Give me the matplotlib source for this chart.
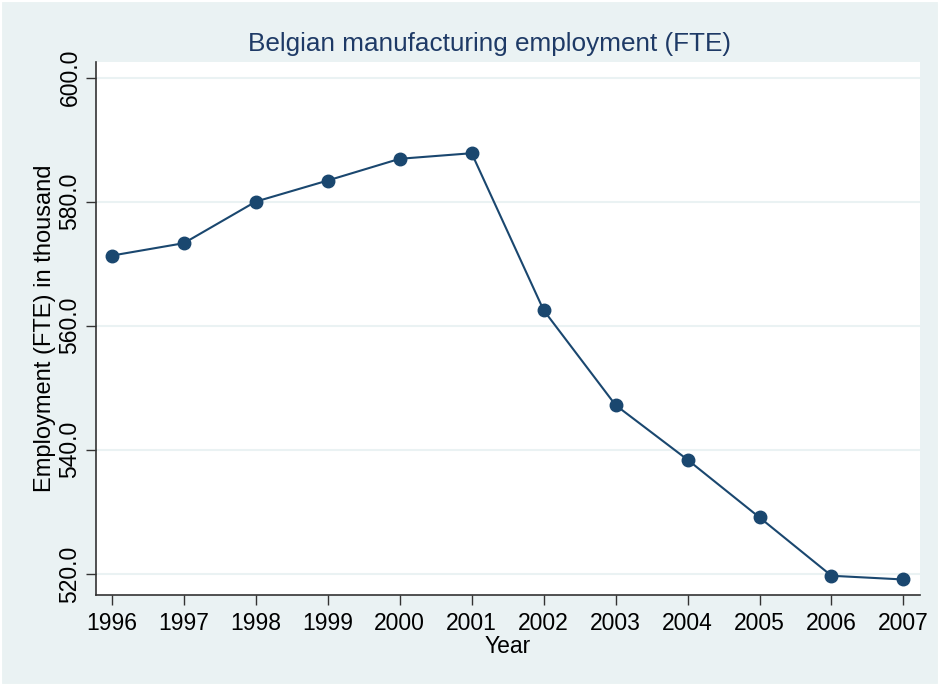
import matplotlib.pyplot as plt
from matplotlib.patches import Rectangle

years = [1996, 1997, 1998, 1999, 2000, 2001, 2002, 2003, 2004, 2005, 2006, 2007]
employment = [571.3, 573.3, 580.0, 583.4, 586.9, 587.8, 562.5, 547.2, 538.4, 529.1, 519.7, 519.1]
ytick_vals = [520, 540, 560, 580, 600]

bg = "#EAF2F3"
navy = "#1a476f"

plt.rcParams['font.family'] = ['Liberation Sans', 'DejaVu Sans']

fig = plt.figure(figsize=(9.4, 6.86), dpi=100, facecolor=bg)
# thin white frame around the graph region
fig.patches.append(Rectangle((0, 0), 1, 1, transform=fig.transFigure,
                             fill=False, edgecolor="white", lw=3))
ax = fig.add_axes([96 / 940, 1 - 595 / 686, 824 / 940, 533 / 686])
ax.set_facecolor("white")

# grid lines
for v in ytick_vals:
    ax.axhline(v, color=bg, lw=1.5, zorder=1)

ax.plot(years, employment, color=navy, lw=1.5, marker="o", ms=9, zorder=3)

ax.set_xlim(1995.78, 2007.23)
ax.set_ylim(516.6, 602.5)
ax.set_xticks(years)
ax.set_yticks(ytick_vals)
ax.set_yticklabels([f"{v:.1f}" for v in ytick_vals], rotation=90, va="center")
ax.tick_params(labelsize=16.5, length=7, width=1, color="#333333")
ax.tick_params(axis="x", pad=5)

for s in ["top", "right"]:
    ax.spines[s].set_visible(False)
for s in ["left", "bottom"]:
    ax.spines[s].set_color("#333333")
    ax.spines[s].set_linewidth(1.2)

ax.set_xlabel("Year", fontsize=16.5, labelpad=0)
ax.set_ylabel("Employment (FTE) in thousand", fontsize=17, labelpad=2)
fig.text(489 / 940, 1 - 44 / 686, "Belgian manufacturing employment (FTE)",
         ha="center", va="center", fontsize=18.8, color="#1e3a66")

fig.savefig("out.png", dpi=100, facecolor=bg)
